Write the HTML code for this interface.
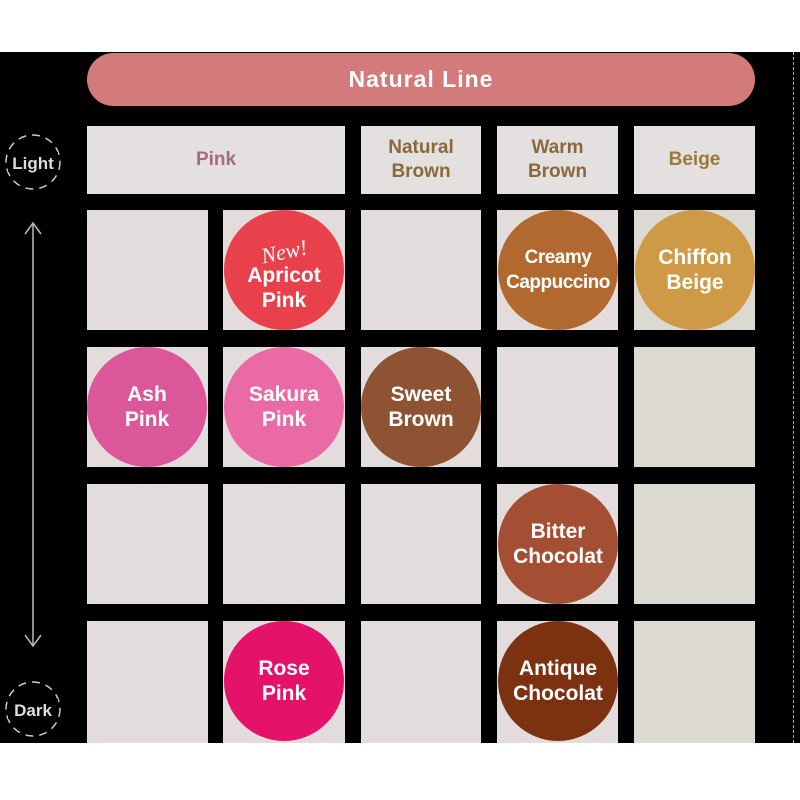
<!DOCTYPE html>
<html><head><meta charset="utf-8"><style>
body{margin:0;width:800px;height:800px;background:#fff;position:relative;overflow:hidden;font-family:"Liberation Sans",sans-serif;}
.bk{position:absolute;left:0;top:52px;width:800px;height:691px;background:#000;}
.a{position:absolute;}
.cell{position:absolute;background:#e2dcdc;}
.hd{position:absolute;background:#e4e0df;display:flex;align-items:center;justify-content:center;text-align:center;font-weight:bold;font-size:19px;line-height:24px;}
.c{position:absolute;border-radius:50%;display:flex;align-items:center;justify-content:center;text-align:center;color:#fff;font-weight:bold;font-size:21px;line-height:25px;}
</style></head><body>
<div class="bk"></div>
<div class="a" style="left:87px;top:53px;width:668px;height:53px;border-radius:27px;background:#d37a7b;color:#fff;font-weight:bold;font-size:23px;letter-spacing:1px;display:flex;align-items:center;justify-content:center;">Natural Line</div>

<div class="hd" style="left:87px;top:126px;width:258px;height:68px;color:#a46b84;">Pink</div>
<div class="hd" style="left:361px;top:126px;width:120px;height:68px;color:#8a6a3c;">Natural<br>Brown</div>
<div class="hd" style="left:497px;top:126px;width:121px;height:68px;color:#8a6a3c;">Warm<br>Brown</div>
<div class="hd" style="left:634px;top:126px;width:121px;height:68px;color:#9a7a3c;">Beige</div>

<div class="cell" style="left:87px;top:210px;width:121px;height:120px"></div>
<div class="cell" style="left:223px;top:210px;width:122px;height:120px"></div>
<div class="cell" style="left:361px;top:210px;width:120px;height:120px"></div>
<div class="cell" style="left:497px;top:210px;width:121px;height:120px"></div>
<div class="cell" style="left:634px;top:210px;width:121px;height:120px;background:#dcd9d2"></div>
<div class="cell" style="left:87px;top:347px;width:121px;height:120px"></div>
<div class="cell" style="left:223px;top:347px;width:122px;height:120px"></div>
<div class="cell" style="left:361px;top:347px;width:120px;height:120px"></div>
<div class="cell" style="left:497px;top:347px;width:121px;height:120px"></div>
<div class="cell" style="left:634px;top:347px;width:121px;height:120px;background:#dcd9d2"></div>
<div class="cell" style="left:87px;top:484px;width:121px;height:120px"></div>
<div class="cell" style="left:223px;top:484px;width:122px;height:120px"></div>
<div class="cell" style="left:361px;top:484px;width:120px;height:120px"></div>
<div class="cell" style="left:497px;top:484px;width:121px;height:120px"></div>
<div class="cell" style="left:634px;top:484px;width:121px;height:120px;background:#dcd9d2"></div>
<div class="cell" style="left:87px;top:621px;width:121px;height:122px"></div>
<div class="cell" style="left:223px;top:621px;width:122px;height:122px"></div>
<div class="cell" style="left:361px;top:621px;width:120px;height:122px"></div>
<div class="cell" style="left:497px;top:621px;width:121px;height:122px"></div>
<div class="cell" style="left:634px;top:621px;width:121px;height:122px;background:#dcd9d2"></div>

<div class="c" style="left:224px;top:210px;width:120px;height:120px;background:#e8414c;flex-direction:column;padding-top:14px;box-sizing:border-box;"><span style="font-family:'Liberation Serif',serif;font-style:italic;font-weight:normal;font-size:22px;line-height:22px;transform:rotate(-12deg);">New!</span>Apricot<br>Pink</div>
<div class="c" style="left:498px;top:210px;width:120px;height:120px;background:#b1692f;font-size:19px;letter-spacing:-0.5px;">Creamy<br>Cappuccino</div>
<div class="c" style="left:635px;top:210px;width:120px;height:120px;background:#cf9a45;">Chiffon<br>Beige</div>
<div class="c" style="left:87px;top:347px;width:120px;height:120px;background:#dc579a;">Ash<br>Pink</div>
<div class="c" style="left:224px;top:347px;width:120px;height:120px;background:#ea6aa5;">Sakura<br>Pink</div>
<div class="c" style="left:361px;top:347px;width:120px;height:120px;background:#8d5333;">Sweet<br>Brown</div>
<div class="c" style="left:498px;top:484px;width:120px;height:120px;background:#a44f34;">Bitter<br>Chocolat</div>
<div class="c" style="left:224px;top:621px;width:120px;height:120px;background:#e5126a;">Rose<br>Pink</div>
<div class="c" style="left:498px;top:621px;width:120px;height:120px;background:#7c3210;">Antique<br>Chocolat</div>

<svg class="a" style="left:0;top:0" width="80" height="800">
<circle cx="33" cy="162" r="27" fill="none" stroke="#ccc" stroke-width="1.5" stroke-dasharray="8 6"/>
<circle cx="33" cy="709" r="27" fill="none" stroke="#ccc" stroke-width="1.5" stroke-dasharray="8 6"/>
<line x1="33" y1="223" x2="33" y2="646" stroke="#bbb" stroke-width="1.5"/>
<polyline points="25,234 33,223 41,234" fill="none" stroke="#bbb" stroke-width="1.5"/>
<polyline points="25,635 33,646 41,635" fill="none" stroke="#bbb" stroke-width="1.5"/>
<rect x="8" y="152" width="50" height="20" fill="#000"/>
<rect x="8" y="699" width="50" height="20" fill="#000"/>
<text x="33" y="169" fill="#ddd" font-family="Liberation Sans" font-weight="bold" font-size="17" text-anchor="middle">Light</text>
<text x="33" y="716" fill="#ddd" font-family="Liberation Sans" font-weight="bold" font-size="17" text-anchor="middle">Dark</text>
</svg>
<div class="a" style="left:793px;top:52px;width:0;height:691px;border-left:1.5px dashed #aaa;"></div>
</body></html>
